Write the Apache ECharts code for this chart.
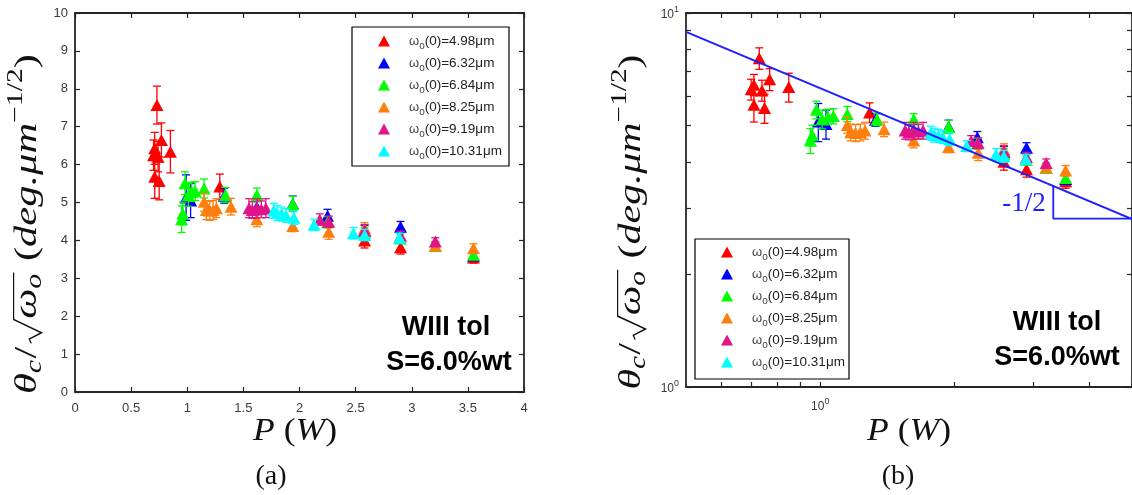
<!DOCTYPE html>
<html><head><meta charset="utf-8">
<script src="https://cdn.jsdelivr.net/npm/echarts@6/dist/echarts.min.js"></script>
<style>html,body{margin:0;padding:0;background:#fff}#c{width:1132px;height:495px}</style>
</head><body><div id="c"></div>
<script>
// ---------- data ----------
const names = ['4.98', '6.32', '6.84', '8.25', '9.19', '10.31'];
const colors = ['#ff0000', '#0000ff', '#00ff00', '#ff7f0e', '#e0158a', '#00ffff'];

const redX = [0.70, 0.71, 0.71, 0.73, 0.74, 0.75, 0.77, 0.85, 1.29, 2.58, 2.90, 3.55];
const redY = [6.25, 6.43, 5.68, 7.57, 6.21, 5.57, 6.65, 6.34, 5.42, 4.00, 3.82, 3.55];
const redE = [0.40, 0.42, 0.57, 0.50, 0.40, 0.50, 0.45, 0.56, 0.33, 0.20, 0.18, 0.15];

const blueX = [0.99, 1.03, 1.33, 1.62, 1.94, 2.25, 2.58, 2.90, 3.55];
const blueY = [5.13, 5.05, 5.18, 4.88, 4.97, 4.65, 4.25, 4.36, 3.60];
const blueE = [0.60, 0.45, 0.20, 0.20, 0.20, 0.17, 0.15, 0.14, 0.12];

const greenX = [0.95, 0.96, 0.98, 1.01, 1.04, 1.07, 1.15, 1.34, 1.62, 1.94, 2.25, 2.58, 2.90, 3.21, 3.55];
const greenY = [4.56, 4.71, 5.51, 5.20, 5.28, 5.30, 5.37, 5.20, 5.20, 4.96, 4.48, 4.20, 4.05, 3.85, 3.62];
const greenE = [0.35, 0.30, 0.30, 0.30, 0.25, 0.25, 0.25, 0.20, 0.18, 0.20, 0.15, 0.15, 0.12, 0.12, 0.10];

const orangeX = [1.15, 1.17, 1.20, 1.23, 1.26, 1.39, 1.62, 1.94, 2.26, 2.58, 3.21, 3.55];
const orangeY = [5.02, 4.80, 4.78, 4.80, 4.85, 4.89, 4.56, 4.38, 4.23, 4.32, 3.86, 3.79];
const orangeE = [0.25, 0.25, 0.25, 0.25, 0.25, 0.22, 0.20, 0.15, 0.20, 0.15, 0.10, 0.12];

const magentaX = [1.55, 1.58, 1.62, 1.66, 1.70, 2.18, 2.26, 2.58, 2.90, 3.21];
const magentaY = [4.85, 4.80, 4.85, 4.82, 4.85, 4.55, 4.49, 4.27, 4.12, 3.97];
const magentaE = [0.25, 0.22, 0.25, 0.22, 0.25, 0.15, 0.15, 0.15, 0.12, 0.10];

const cyanX = [1.77, 1.80, 1.84, 1.88, 1.95, 2.13, 2.48, 2.58, 2.89];
const cyanY = [4.78, 4.72, 4.70, 4.66, 4.60, 4.41, 4.19, 4.14, 4.07];
const cyanE = [0.20, 0.20, 0.18, 0.18, 0.18, 0.15, 0.15, 0.15, 0.12];

// reference line of slope -1/2 (log-log) and slope triangle
const fitP = [0.5, 5];
const fitV = [8.9, 2.81];
const triP = [3.33, 3.33, 5];
const triV = [3.45, 2.82, 2.82];

// tick values
const linXTicks = [0, 4, 0.5];
const linYTicks = [0, 10, 1];
const logXTicks = [0.6, 0.7, 0.8, 0.9, 1, 2, 3, 4, 5];
const logXLabels = [1];
const logYTicks = [1, 2, 3, 4, 5, 6, 7, 8, 9, 10];
const logYLabels = [1, 10];

// ---------- chart ----------
const sets = [[redX, redY, redE], [blueX, blueY, blueE], [greenX, greenY, greenE],
              [orangeX, orangeY, orangeE], [magentaX, magentaY, magentaE], [cyanX, cyanY, cyanE]];

const AX = '#262626';
const SANS = '"Liberation Sans", Arial, sans-serif';
const SERIF = 'Liberation Serif';

function renderErr(params, api) {
  const x = api.value(0), y = api.value(1), e = api.value(2);
  const t = api.coord([x, y + e]);
  const b = api.coord([x, y - e]);
  const hw = 4;
  const style = { stroke: api.visual('color'), lineWidth: 1.3, fill: null };
  return { type: 'group', children: [
    { type: 'line', shape: { x1: t[0], y1: t[1], x2: b[0], y2: b[1] }, style },
    { type: 'line', shape: { x1: t[0] - hw, y1: t[1], x2: t[0] + hw, y2: t[1] }, style },
    { type: 'line', shape: { x1: b[0] - hw, y1: b[1], x2: b[0] + hw, y2: b[1] }, style }
  ]};
}

const series = [];
[0, 1].forEach(g => {
  sets.forEach((s, i) => {
    const data = s[0].map((x, k) => [x, s[1][k], s[2][k]]);
    series.push({ type: 'custom', name: names[i], xAxisIndex: g * 2, yAxisIndex: g * 2,
      data, renderItem: renderErr, itemStyle: { color: colors[i] }, encode: { x: 0, y: 1 },
      z: 2 + i * 2, silent: true });
    series.push({ type: 'scatter', name: names[i], xAxisIndex: g * 2, yAxisIndex: g * 2,
      data: data.map(d => [d[0], d[1]]), symbol: 'triangle', symbolSize: [13, 12],
      itemStyle: { color: colors[i], opacity: 1 }, z: 3 + i * 2, silent: true });
  });
});
series.push({ type: 'line', xAxisIndex: 2, yAxisIndex: 2, data: fitP.map((p, k) => [p, fitV[k]]),
  symbol: 'none', lineStyle: { color: '#1f1fff', width: 2 }, z: 30, silent: true });
series.push({ type: 'line', xAxisIndex: 2, yAxisIndex: 2, data: triP.map((p, k) => [p, triV[k]]),
  symbol: 'none', lineStyle: { color: '#1f1fff', width: 1.8 }, z: 30, silent: true });

const tickLine = { lineStyle: { color: AX, width: 1.2 } };
const axLine = { show: true, onZero: false, lineStyle: { color: AX, width: 1.8 } };
const lbl = { color: '#3a3a3a', fontSize: 13, fontFamily: SANS };
const sup = v => '{b|10}{s|' + Math.round(Math.log10(v)) + '}';
const supRich = { b: { fontSize: 12, color: '#3a3a3a', fontFamily: SANS, lineHeight: 16, verticalAlign: 'bottom' },
                  s: { fontSize: 9, color: '#3a3a3a', fontFamily: SANS, lineHeight: 16, verticalAlign: 'top' } };

function linAxis(grid, pos, t, showLabel, margin) {
  return { type: 'value', gridIndex: grid, position: pos, min: t[0], max: t[1], interval: t[2],
    axisLine: axLine, axisTick: Object.assign({ inside: true, length: 5 }, tickLine),
    axisLabel: Object.assign({ show: showLabel, margin: margin }, lbl), splitLine: { show: false } };
}
function logAxis(grid, pos, mn, mx, ticks, labels, showLabel, margin) {
  return { type: 'log', logBase: 10, gridIndex: grid, position: pos, min: mn, max: mx,
    axisLine: axLine,
    axisTick: Object.assign({ inside: true, length: 5, customValues: ticks }, tickLine),
    axisLabel: { show: showLabel, customValues: labels, formatter: sup, rich: supRich, margin: margin },
    splitLine: { show: false }, minorTick: { show: false } };
}

const legRich = {
  p: { width: 14 },
  w: { fontSize: 13, lineHeight: 20, fontFamily: SANS, color: '#444' },
  s: { fontSize: 10, lineHeight: 10, fontFamily: SANS, color: '#444', verticalAlign: 'bottom' },
  t: { fontSize: 13.5, lineHeight: 20, fontFamily: SANS, color: '#222' }
};
function legend(left, top) {
  return { left, top, orient: 'vertical', itemWidth: 12, itemHeight: 11, itemGap: 2,
    padding: 0, selectedMode: false, icon: 'triangle', z: 60,
    data: names.map(n => ({ name: n, icon: 'triangle' })),
    formatter: n => '{p|}{w|ω}{s|o}{t|(0)=' + n + 'μm}',
    textStyle: { rich: legRich, height: 20, lineHeight: 20 } };
}

// ---------- text pieces (measured) ----------
const mctx = document.createElement('canvas').getContext('2d');
function fontStr(p) { return (p.it ? 'italic ' : '') + (p.b ? 'bold ' : '') + p.s + 'px "' + SERIF + '"'; }
function composed(pieces, cx, cy, rot, target, color) {
  let x = 0; const kids = []; let rad = null; let overEnd = 0; const S = pieces[0].s;
  pieces.forEach(p => {
    if (p.rad) { rad = { x0: x, w: p.w }; x += p.w; return; }
    mctx.font = fontStr(p);
    const w = mctx.measureText(p.t).width;
    kids.push({ type: 'text', x: x, y: p.dy || 0,
      style: { text: p.t, font: fontStr(p), fill: color || '#111', textAlign: 'left', textVerticalAlign: 'middle' } });
    x += w;
    if (p.over) overEnd = x + 1;
    x += (p.gap || 0);
  });
  if (rad) {
    const x0 = rad.x0, w = rad.w, top = -0.45 * S;
    kids.push({ type: 'polyline', shape: { points: [[x0 + 0.02 * S, 0.1 * S], [x0 + 0.12 * S, 0.04 * S],
      [x0 + 0.27 * S, 0.42 * S], [x0 + w - 0.02 * S, top], [overEnd, top]] },
      style: { stroke: color || '#111', lineWidth: 1.2, fill: null } });
  }
  kids.forEach(k => { if (k.type === 'text') k.x -= x / 2; else k.shape.points.forEach(pt => pt[0] -= x / 2); });
  const sx = target ? target / x : 1;
  return { type: 'group', x: cx, y: cy, rotation: rot || 0, scaleX: sx, children: kids, silent: true };
}
const S1 = 32;
const yTitlePieces = () => [
  { t: 'θ', s: S1, it: 1 },
  { t: 'c', s: S1 * 0.7, it: 1, dy: S1 * 0.22, gap: 1 },
  { t: '/', s: S1, gap: 2 },
  { rad: 1, w: S1 * 0.6 },
  { t: 'ω', s: S1, it: 1, over: 1 },
  { t: 'o', s: S1 * 0.7, it: 1, dy: S1 * 0.22, over: 1, gap: S1 * 0.3 },
  { t: '(', s: S1 },
  { t: 'deg.μm', s: S1, it: 1 },
  { t: '−1/2', s: S1 * 0.7, dy: -S1 * 0.38 },
  { t: ')', s: S1 }
];
const xTitlePieces = () => [
  { t: 'P', s: S1, it: 1, gap: S1 * 0.25 },
  { t: '(', s: S1 },
  { t: 'W', s: S1, it: 1 },
  { t: ')', s: S1 }
];

function note(txt, x, y) {
  return { type: 'text', x, y, silent: true, style: { text: txt, font: 'bold 27px ' + SANS, fill: '#000',
    textAlign: 'center', textVerticalAlign: 'middle' } };
}

const graphic = [
  { type: 'rect', shape: { x: 352, y: 27, width: 157, height: 139 }, style: { fill: 'none', stroke: '#000', lineWidth: 1.2 }, z: 50, silent: true },
  { type: 'rect', shape: { x: 695, y: 239, width: 154, height: 140 }, style: { fill: 'none', stroke: '#000', lineWidth: 1.2 }, z: 50, silent: true },
  note('WIII tol', 446, 328), note('S=6.0%wt', 449, 363),
  note('WIII tol', 1057, 323), note('S=6.0%wt', 1057, 358),
  composed(yTitlePieces(), 28, 224, Math.PI / 2, 340),
  composed(yTitlePieces(), 632, 222, Math.PI / 2, 335),
  composed(xTitlePieces(), 295, 432, 0, 84),
  composed(xTitlePieces(), 909, 432, 0, 84),
  composed([{ t: '(a)', s: 28 }], 271, 477, 0),
  composed([{ t: '(b)', s: 28 }], 898, 477, 0),
  { type: 'text', x: 1024, y: 204, silent: true, z: 60, style: { text: '-1/2', font: '27px "' + SERIF + '"', fill: '#2020ff', textAlign: 'center', textVerticalAlign: 'middle' } }
];

const chart = echarts.init(document.getElementById('c'));
chart.setOption({
  animation: false,
  backgroundColor: '#fff',
  grid: [
    { left: 75, top: 13, width: 449, height: 379, containLabel: false },
    { left: 686, top: 13, width: 447, height: 374, containLabel: false }
  ],
  xAxis: [
    linAxis(0, 'bottom', linXTicks, true, 10),
    linAxis(0, 'top', linXTicks, false, 10),
    logAxis(1, 'bottom', 0.5, 5, logXTicks, logXLabels, true, 10),
    logAxis(1, 'top', 0.5, 5, logXTicks, logXLabels, false, 10)
  ],
  yAxis: [
    linAxis(0, 'left', linYTicks, true, 7),
    linAxis(0, 'right', linYTicks, false, 7),
    logAxis(1, 'left', 1, 10, logYTicks, logYLabels, true, 7),
    logAxis(1, 'right', 1, 10, logYTicks, logYLabels, false, 7)
  ],
  legend: [legend(378, 31), legend(721, 242)],
  series,
  graphic
});
</script></body></html>
